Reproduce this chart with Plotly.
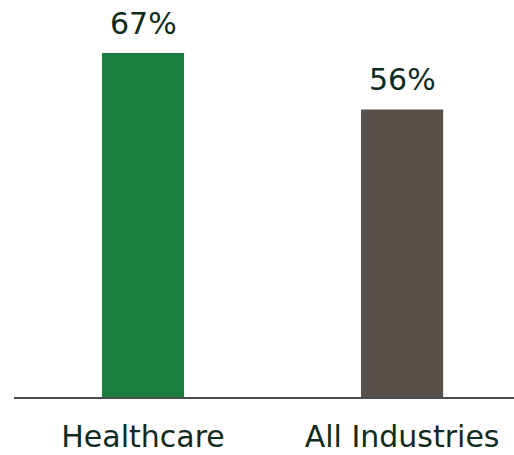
import plotly.graph_objects as go

categories = ["Healthcare", "All Industries"]
values = [67, 56]
value_labels = ["67%", "56%"]
bar_colors = ["#1a7f3f", "#574f4a"]

text_color = "#0f2b1d"
font_family = "DejaVu Sans"

fig = go.Figure(
    go.Bar(
        x=categories,
        y=values,
        marker=dict(color=bar_colors, line=dict(width=0)),
        width=0.317,
        cliponaxis=False,
        hoverinfo="skip",
    )
)

for cat, val, lab in zip(categories, values, value_labels):
    fig.add_annotation(
        x=cat,
        y=val,
        text=lab,
        showarrow=False,
        xanchor="center",
        yanchor="bottom",
        yshift=10,
        font=dict(family=font_family, size=30, color=text_color),
    )

fig.update_layout(
    width=514,
    height=455,
    margin=dict(l=14, r=0, t=0, b=58),
    paper_bgcolor="white",
    plot_bgcolor="white",
    showlegend=False,
    font=dict(family=font_family, size=30, color=text_color),
    xaxis=dict(
        range=[-0.498, 1.432],
        showline=True,
        linecolor="#4d4d4d",
        linewidth=2,
        ticks="",
        showgrid=False,
        tickfont=dict(family=font_family, size=30, color=text_color),
        ticklabelstandoff=12,
    ),
    yaxis=dict(
        range=[0, 77.3],
        visible=False,
        showgrid=False,
        zeroline=False,
    ),
)

fig.write_html(
    "out.html",
    config={"displayModeBar": False},
    post_script="document.body.style.margin='0';document.body.style.overflow='hidden';",
)
